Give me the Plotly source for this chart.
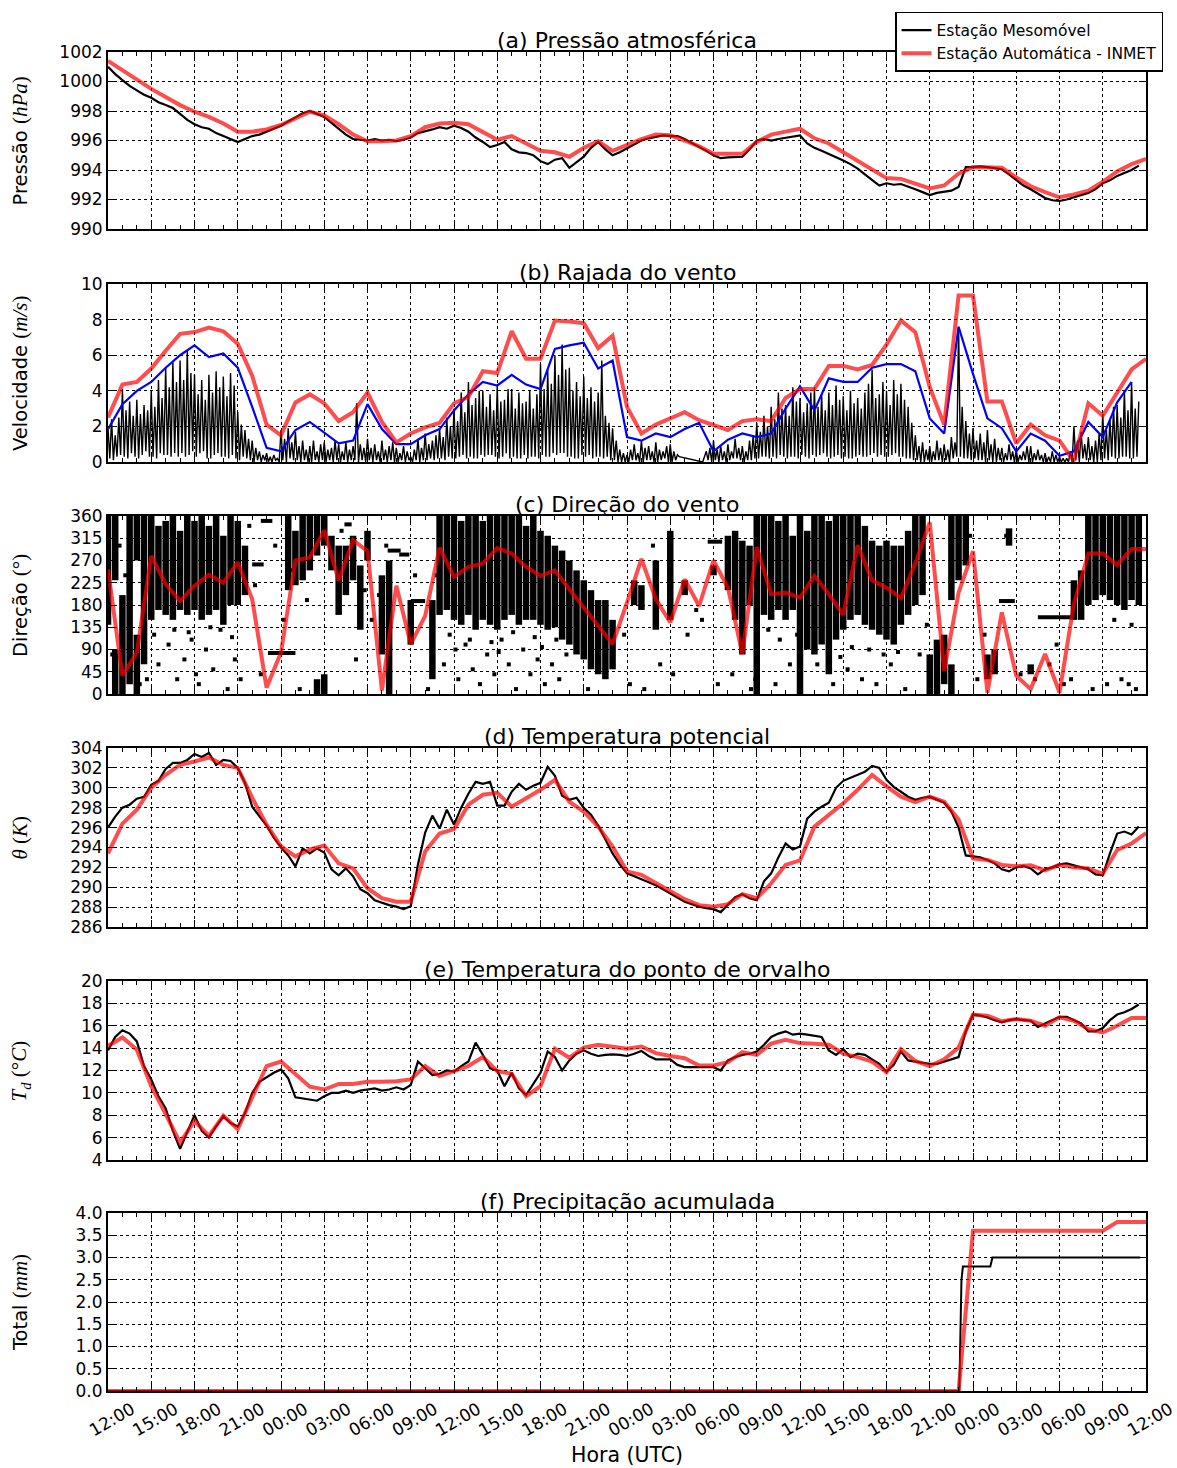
import numpy as np
import plotly.graph_objects as go

# ------------------------------------------------------------------
# Time axis: hours after the first 12:00 UTC (72 h window)
# ------------------------------------------------------------------
hour_tick_labels = ["12:00", "15:00", "18:00", "21:00", "00:00", "03:00", "06:00", "09:00",
                    "12:00", "15:00", "18:00", "21:00", "00:00", "03:00", "06:00", "09:00",
                    "12:00", "15:00", "18:00", "21:00", "00:00", "03:00", "06:00", "09:00",
                    "12:00"]
hour_tick_vals = list(range(0, 73, 3))

t_hour = np.arange(0, 73, 1.0)          # INMET hourly records
t_half = np.arange(0, 72.01, 0.5)       # mobile station, half-hour samples
t_eighth = np.arange(0, 72.01, 0.125)   # mobile station gusts, 7.5-min samples

# ------------------------------------------------------------------
# (a) Pressure (hPa)
# ------------------------------------------------------------------
inmet_pressure = [1001.4, 1000.75, 1000.1, 999.5, 998.95, 998.4, 997.95, 997.6, 997.15, 996.6,
                  996.6, 996.75, 997.05, 997.5, 997.95, 997.7, 997.1, 996.4, 995.95, 995.95,
                  996.0, 996.3, 996.9, 997.15, 997.2, 997.1, 996.6, 996.05, 996.3, 995.8,
                  995.3, 995.2, 994.9, 995.5, 995.95, 995.3, 995.7, 996.1, 996.4, 996.35,
                  996.0, 995.6, 995.1, 995.1, 995.1, 995.9, 996.4, 996.6, 996.8, 996.15,
                  995.8, 995.2, 994.6, 994.0, 993.45, 993.4, 993.1, 992.75, 992.95, 993.75,
                  994.2, 994.2, 994.15, 993.5, 992.9, 992.5, 992.15, 992.35, 992.6, 993.2,
                  993.9, 994.4, 994.75]
meso_pressure = [1001.0, 1000.5, 1000.1, 999.7, 999.4, 999.1, 998.9, 998.6, 998.4, 998.2,
                 997.8, 997.4, 997.1, 996.9, 996.8, 996.5, 996.3, 996.1, 995.9, 996.1,
                 996.3, 996.4, 996.6, 996.8, 997.0, 997.3, 997.6, 997.85, 998.0, 997.8,
                 997.6, 997.2, 996.8, 996.4, 996.1, 996.05, 996.0, 996.1, 996.0, 996.05,
                 995.95, 996.05, 996.2, 996.5, 996.6, 996.75, 996.9, 996.8, 997.0, 996.85,
                 996.6, 996.2, 995.9, 995.55, 995.7, 995.9, 995.4, 995.2, 995.15, 995.0,
                 994.6, 994.4, 994.7, 994.8, 994.15, 994.5, 994.9, 995.5, 995.9, 995.4,
                 995.0, 995.2, 995.45, 995.7, 996.0, 996.15, 996.25, 996.35, 996.3, 996.3,
                 996.1, 995.85, 995.6, 995.3, 995.0, 994.8, 994.85, 994.85, 994.9, 995.4,
                 996.0, 996.1, 996.0, 996.1, 996.2, 996.3, 996.35, 995.8, 995.5, 995.3,
                 995.1, 994.9, 994.65, 994.4, 994.1, 993.7, 993.3, 992.95, 993.1, 993.0,
                 993.05, 992.9, 992.7, 992.5, 992.3, 992.45, 992.5, 992.6, 992.85, 994.2,
                 994.2, 994.25, 994.2, 994.15, 994.05, 993.7, 993.3, 992.95, 992.7, 992.4,
                 992.1, 991.95, 991.9, 992.0, 992.15, 992.3, 992.45, 992.7, 993.1, 993.3,
                 993.6, 993.8, 994.0, 994.3, None]

# ------------------------------------------------------------------
# (b) Wind gust (m/s)
# ------------------------------------------------------------------
inmet_gust = [2.5, 4.35, 4.5, 5.25, 6.25, 7.2, 7.3, 7.55, 7.35, 6.65,
              4.85, 2.1, 1.5, 3.35, 3.8, 3.3, 2.3, 2.8, 3.9, 2.25,
              1.1, 1.6, 1.95, 2.2, 3.3, 3.65, 5.1, 5.0, 7.35, 5.8,
              5.8, 7.95, 7.9, 7.8, 6.4, 7.1, 3.1, 1.6, 2.1, 2.45,
              2.8, 2.35, 2.1, 1.8, 2.3, 2.4, 2.3, 3.6, 4.1, 4.1,
              5.4, 5.4, 5.2, 5.45, 6.6, 7.95, 7.3, 4.2, 2.1, 9.35,
              9.35, 3.4, 3.4, 1.05, 2.1, 1.5, 1.2, 0.05, 3.3, 2.6,
              3.9, 5.2, 5.8]
inmet_wind_speed = [1.85, 3.25, 4.0, 4.5, 5.3, 6.0, 6.55, 5.9, 6.1, 5.3,
                    3.1, 0.8, 0.6, 1.8, 2.25, 1.65, 1.05, 1.2, 3.25, 1.85,
                    1.0, 1.0, 1.5, 1.85, 2.9, 3.8, 4.5, 4.3, 4.9, 4.35,
                    4.1, 6.35, 6.55, 6.7, 5.25, 5.7, 1.4, 1.2, 1.6, 1.4,
                    1.85, 2.2, 0.6, 1.25, 1.6, 1.4, 1.6, 3.0, 4.25, 2.9,
                    4.7, 4.5, 4.5, 5.3, 5.5, 5.5, 5.1, 2.45, 1.6, 7.6,
                    4.95, 2.45, 1.9, 0.6, 1.6, 1.2, 0.35, 0.6, 2.25, 1.4,
                    3.35, 4.5]
meso_gust_by_hour = [
    [1.9, 0.2, 2.4, 0.1, 1.5, 0.3, 2.5, 0.4], [4.1, 0.3, 2.9, 0.2, 3.4, 0.5, 2.6, 0.3],
    [3.5, 0.2, 2.7, 0.4, 3.2, 0.6, 2.9, 0.3], [4.0, 0.3, 3.1, 0.2, 4.6, 0.5, 3.6, 0.4],
    [5.3, 0.4, 4.2, 0.3, 5.6, 0.5, 4.5, 0.3], [5.7, 0.5, 4.6, 0.3, 6.3, 0.4, 5.0, 0.6],
    [4.9, 0.3, 3.8, 0.5, 4.6, 0.6, 3.5, 0.2], [4.9, 0.2, 3.9, 0.4, 5.1, 0.5, 4.2, 0.3],
    [4.8, 0.3, 3.7, 0.2, 5.0, 0.4, 4.3, 0.2], [2.8, 0.1, 2.1, 0.3, 1.8, 0.2, 1.3, 0.1],
    [1.2, 0.0, 0.8, 0.1, 0.6, 0.0, 0.4, 0.1], [0.5, 0.0, 0.3, 0.0, 0.4, 0.1, 0.2, 0.0],
    [1.8, 0.1, 1.3, 0.0, 1.9, 0.2, 1.1, 0.1], [1.7, 0.1, 0.9, 0.0, 1.2, 0.1, 0.7, 0.0],
    [0.9, 0.0, 1.2, 0.1, 0.6, 0.0, 1.0, 0.1], [1.1, 0.0, 0.7, 0.1, 0.8, 0.0, 1.2, 0.1],
    [1.0, 0.0, 0.6, 0.1, 1.1, 0.0, 0.7, 0.1], [0.9, 0.1, 3.3, 0.0, 1.0, 0.1, 0.8, 0.0],
    [1.3, 0.1, 0.8, 0.0, 1.0, 0.1, 0.6, 0.0], [1.2, 0.1, 0.7, 0.0, 0.9, 0.1, 1.1, 0.0],
    [0.8, 0.0, 0.5, 0.1, 0.9, 0.0, 0.6, 0.1], [0.3, 0.0, 0.7, 0.1, 1.3, 0.0, 0.8, 0.1],
    [1.6, 0.1, 1.0, 0.2, 1.2, 0.1, 1.5, 0.2], [1.9, 0.2, 1.4, 0.1, 2.5, 0.3, 2.0, 0.2],
    [3.0, 0.2, 2.3, 0.3, 3.9, 0.4, 2.8, 0.2], [4.5, 0.3, 3.2, 0.2, 3.6, 0.2, 4.0, 0.4],
    [4.0, 0.3, 3.1, 0.4, 3.8, 0.4, 2.9, 0.3], [4.3, 0.2, 3.4, 0.3, 3.5, 0.5, 4.1, 0.2],
    [4.1, 0.3, 3.0, 0.2, 3.9, 0.2, 3.3, 0.4], [3.4, 0.2, 4.0, 0.3, 3.0, 0.3, 3.8, 0.2],
    [5.5, 0.4, 4.1, 0.3, 5.2, 0.3, 4.4, 0.5], [6.0, 0.4, 4.9, 0.5, 6.6, 0.5, 5.2, 0.3],
    [5.3, 0.3, 4.0, 0.2, 4.5, 0.2, 3.7, 0.4], [4.8, 0.3, 3.6, 0.4, 4.2, 0.2, 3.4, 0.3],
    [3.9, 0.3, 5.7, 0.2, 2.6, 0.3, 2.2, 0.1], [1.9, 0.1, 1.2, 0.0, 0.7, 0.0, 0.5, 0.0],
    [0.4, 0.0, 0.7, 0.1, 1.0, 0.1, 0.5, 0.0], [1.2, 0.0, 0.8, 0.1, 0.9, 0.1, 0.6, 0.0],
    [1.1, 0.0, 0.7, 0.1, 0.6, 0.2, 0.9, 0.0], [1.0, 0.0, 0.6, 0.1, 0.4, 0.3, None, None],
    [None, None, None, None, None, None, None, None],
    [None, None, 0.0, 0.3, 0.6, 0.1, 0.8, 0.0],
    [1.2, 0.1, 0.7, 0.0, 0.9, 0.1, 0.6, 0.0], [1.0, 0.1, 0.6, 0.2, 1.3, 0.2, 0.8, 0.1],
    [0.9, 0.0, 0.6, 0.1, 1.2, 0.1, 1.5, 0.2], [2.2, 0.2, 1.7, 0.3, 2.6, 0.3, 2.0, 0.2],
    [3.1, 0.3, 2.4, 0.2, 3.9, 0.4, 3.0, 0.3], [3.2, 0.2, 2.6, 0.3, 4.2, 0.3, 3.4, 0.2],
    [3.6, 0.4, 2.8, 0.3, 3.3, 0.2, 3.9, 0.4], [4.2, 0.3, 3.1, 0.4, 3.8, 0.5, 2.9, 0.3],
    [3.9, 0.2, 3.2, 0.3, 4.3, 0.4, 3.5, 0.2], [3.7, 0.3, 2.9, 0.2, 4.0, 0.2, 3.3, 0.3],
    [3.6, 0.4, 3.0, 0.3, 3.9, 0.3, 4.4, 0.4], [5.2, 0.5, 3.6, 0.3, 3.8, 0.4, 4.5, 0.3],
    [4.0, 0.3, 3.2, 0.4, 4.6, 0.5, 3.8, 0.3], [4.4, 0.3, 3.5, 0.2, 3.1, 0.2, 2.2, 0.1],
    [1.5, 0.1, 0.9, 0.0, 1.1, 0.0, 0.7, 0.1], [0.9, 0.0, 0.6, 0.1, 1.2, 0.1, 0.8, 0.0],
    [1.0, 0.1, 0.7, 0.0, 1.4, 0.2, 1.1, 0.3], [7.6, 0.3, 3.1, 0.2, 2.3, 0.2, 1.6, 0.1],
    [1.9, 0.2, 1.2, 0.1, 1.6, 0.1, 1.1, 0.0], [1.8, 0.1, 1.0, 0.0, 1.3, 0.0, 0.8, 0.1],
    [0.8, 0.0, 0.5, 0.1, 1.0, 0.1, 0.6, 0.0], [0.7, 0.0, 0.4, 0.1, 0.6, 0.1, 0.9, 0.0],
    [0.9, 0.0, 0.5, 0.1, 0.7, 0.1, 0.4, 0.0], [0.5, 0.0, 0.3, 0.0, 0.6, 0.0, 0.4, 0.0],
    [0.3, 0.0, 0.2, 0.0, 0.2, 0.0, 0.6, 0.0], [2.0, 0.1, 1.2, 0.0, 1.7, 0.2, 1.0, 0.1],
    [1.4, 0.1, 0.9, 0.0, 1.2, 0.0, 1.6, 0.1], [2.7, 0.2, 1.8, 0.1, 2.4, 0.3, 3.1, 0.2],
    [3.2, 0.2, 2.5, 0.3, 4.0, 0.3, 2.9, 0.2], [4.5, 0.2, 3.0, 0.3, 3.4, None, None, None],
    [None],
]
meso_gust = [v for hour in meso_gust_by_hour for v in hour]

# ------------------------------------------------------------------
# (c) Wind direction (degrees)
# ------------------------------------------------------------------
inmet_direction = [252, 37, 84, 279, 222, 188, 219, 241, 225, 266,
                   192, 13, 84, 270, 276, 331, 229, 311, 289, 7,
                   219, 101, 158, 296, 237, 257, 264, 295, 284, 257,
                   239, 250, 212, 175, 138, 101, 185, 273, 192, 145,
                   232, 178, 270, 215, 81, 297, 202, 205, 195, 239,
                   202, 160, 301, 230, 215, 194, 264, 347, 47, 205,
                   289, 3, 165, 37, 10, 81, 3, 182, 284, 284,
                   261, 293, 293]
# spread of the mobile-station direction samples in each half hour (lowest, highest)
meso_dir_low = [140, 230, 0, 20, 0, 60, 150, 170, 160, 150,
                170, 160, 170, 150, 160, 170, 140, 180, 180, 200,
                None, None, None, None, None, 210, 220, 230, 250, 280,
                300, 250, 160, 200, 230, 130, 270, None, 80, 0,
                None, None, 100, None, None, 30, 160, 170, 150, 140,
                160, 130, 150, 140, 130, 150, 160, 140, 150, 150,
                140, 130, 135, 110, 100, 80, 70, 50, 40, 30,
                50, None, None, 180, 170, None, 130, None, 150, None,
                200, None, None, None, 240, None, 210, 150, 80, 180,
                0, 160, 150, 170, 150, 170, 0, 90, 80, 100,
                40, 110, 130, 150, 160, 140, 130, 120, 110, 100,
                140, 160, 180, 200, 0, 0, 20, 190, 230, 260,
                None, None, 30, 40, None, 300, None, None, 40, None,
                None, None, None, None, 150, 150, 180, 190, 200, 190,
                180, 170, 190, 180, None]
meso_dir_high = [360, 360, 200, 360, 120, 360, 360, 340, 350, 360,
                 330, 360, 350, 360, 340, 360, 320, 360, 350, 300,
                 None, None, None, None, None, 360, 330, 360, 360, 360,
                 360, 320, 300, 300, 320, 260, 330, None, 240, 270,
                 None, None, 190, None, None, 190, 360, 360, 360, 350,
                 360, 360, 350, 360, 360, 360, 360, 360, 340, 360,
                 330, 320, 300, 290, 270, 250, 230, 210, 190, 190,
                 150, None, None, 230, 220, None, 270, None, 330, None,
                 230, None, None, None, 260, None, 320, 330, 310, 300,
                 360, 360, 360, 350, 360, 320, 360, 330, 360, 360,
                 350, 360, 360, 360, 360, 340, 310, 300, 310, 300,
                 300, 330, 360, 360, 80, 110, 120, 360, 360, 360,
                 None, None, 80, 90, None, 335, None, None, 60, None,
                 None, None, None, None, 230, 250, 360, 360, 360, 360,
                 360, 360, 360, 360, None]
# secondary clusters (hour, lowest, highest)
meso_dir_extra_t = [0.5, 2.0, 14.5, 15.0, 58.5]
meso_dir_extra_low = [0, 270, 0, 0, 0]
meso_dir_extra_high = [90, 360, 30, 40, 60]
# periods of steady direction (start hour, end hour, direction)
meso_dir_steady_start = [10.0, 10.6, 11.1, 16.4, 19.4, 20.2, 21.0, 41.6, 61.8, 64.5]
meso_dir_steady_end = [10.8, 11.4, 13.0, 16.9, 20.3, 20.9, 22.0, 42.6, 62.9, 67.1]
meso_dir_steady_value = [262, 350, 83, 343, 290, 282, 188, 308, 188, 155]
# isolated samples
meso_dir_dot_t = [0.3, 0.8, 1.2, 2.2, 3.5, 4.2, 4.8, 5.3, 5.8, 6.3, 6.8, 7.3, 7.8, 8.3, 8.8,
                  9.2, 10.2, 10.6, 11.6, 12.2, 13.3, 13.8, 16.2, 17.2, 17.8, 18.3, 19.3, 21.3,
                  22.2, 23.3, 24.3, 24.8, 25.3, 25.8, 26.3, 26.8, 27.3, 27.8, 28.3, 28.8, 29.3,
                  29.8, 30.3, 30.8, 31.3, 31.8, 33.3, 36.2, 37.2, 38.3, 39.2, 40.2, 41.2, 42.3,
                  43.3, 44.6, 46.3, 47.3, 50.3, 51.3, 52.3, 53.3, 54.3, 55.3, 56.3, 60.3, 63.3,
                  64.3, 65.3, 66.3, 69.3, 70.3, 71.3, 9.8, 12.8, 18.8, 22.8, 35.8, 37.8, 40.8,
                  44.9, 59.8, 60.8, 62.3, 65.8, 66.8, 68.3, 70.8,
                  3.2, 4.6, 5.6, 7.1, 8.6, 23.7, 25.1, 26.6, 28.1, 29.6, 31.1, 45.8, 47.8,
                  49.2, 50.8, 52.8, 54.8, 56.8, 69.8, 71.0, 2.7, 6.1, 24.1, 27.1, 30.1, 46.6,
                  51.6, 53.8]
meso_dir_dot_v = [80, 300, 240, 20, 60, 100, 30, 70, 110, 20, 90, 50, 130, 10, 70,
                  30, 220, 40, 300, 150, 10, 190, 330, 70, 210, 150, 300, 240,
                  10, 60, 30, 100, 50, 20, 80, 40, 110, 60, 10, 90, 40,
                  70, 20, 60, 30, 80, 10, 20, 10, 60, 40, 120, 150, 20,
                  40, 10, 20, 60, 20, 50, 30, 20, 60, 10, 80, 30, 40,
                  30, 60, 20, 20, 30, 10, 340, 250, 200, 240, 120, 300, 170,
                  30, 320, 120, 320, 100, 30, 10, 20,
                  120, 130, 125, 135, 115, 120, 110, 105, 125, 115, 110, 130, 120,
                  60, 75, 90, 85, 140, 150, 140, 30, 40, 90, 85, 95, 110,
                  95, 80]

# ------------------------------------------------------------------
# (d) Potential temperature (K)
# ------------------------------------------------------------------
inmet_theta = [293.4, 296.4, 297.8, 300.0, 301.3, 302.3, 302.65, 303.05, 302.3, 302.0,
               299.0, 296.3, 294.1, 293.1, 293.8, 294.2, 292.4, 291.9, 289.9, 288.9,
               288.55, 288.55, 293.6, 295.4, 295.85, 298.3, 299.3, 299.5, 298.1, 298.95,
               299.8, 300.8, 298.6, 297.6, 296.1, 294.1, 291.6, 291.25, 290.4, 289.55,
               288.8, 288.2, 288.05, 288.3, 289.3, 288.9, 290.4, 292.25, 292.7, 296.1,
               297.3, 298.45, 299.8, 301.3, 300.15, 299.1, 298.55, 299.1, 298.6, 296.8,
               292.9, 292.75, 292.25, 292.1, 292.2, 291.7, 292.25, 292.0, 291.9, 291.35,
               293.75, 294.4, 295.45]
meso_theta = [296.0, 297.1, 298.0, 298.3, 298.9, 299.1, 300.3, 300.7, 301.9, 302.5,
              302.5, 302.8, 303.4, 303.1, 303.5, 302.3, 302.8, 302.7, 302.0, 300.5,
              298.1, 297.2, 296.2, 295.0, 294.0, 293.2, 292.1, 293.9, 293.4, 293.9,
              293.5, 291.8, 291.2, 291.9, 291.1, 289.8, 289.4, 288.7, 288.45, 288.2,
              288.05, 287.8, 288.1, 292.3, 295.5, 297.2, 295.9, 297.8, 296.3, 298.0,
              299.4, 300.6, 300.4, 300.6, 298.2, 298.2, 299.6, 300.4, 299.8, 300.2,
              300.5, 302.1, 301.2, 299.2, 298.8, 299.0, 298.0, 297.3, 296.2, 294.8,
              293.4, 292.3, 291.4, 291.1, 290.8, 290.5, 290.2, 289.8, 289.4, 289.0,
              288.55, 288.3, 288.05, 287.9, 287.8, 287.5, 288.2, 289.0, 289.3, 288.9,
              288.7, 290.6, 291.4, 293.0, 294.4, 293.8, 294.1, 296.9, 297.6, 298.1,
              298.5, 300.0, 300.7, 301.0, 301.3, 301.6, 302.2, 302.0, 300.8, 300.1,
              299.6, 299.1, 298.8, 299.0, 299.1, 298.8, 298.5, 297.6, 296.0, 293.2,
              293.1, 293.0, 292.75, 292.4, 291.8, 291.6, 292.0, 292.15, 291.9, 291.3,
              291.8, 292.0, 292.3, 292.4, 292.2, 292.0, 291.8, 291.3, 291.2, 293.4,
              295.4, 295.6, 295.3, 296.1, None]

# ------------------------------------------------------------------
# (e) Dew point (°C)
# ------------------------------------------------------------------
inmet_dewpoint = [14.2, 14.95, 13.85, 10.6, 8.1, 5.55, 7.5, 6.15, 7.95, 6.75,
                  9.6, 12.4, 12.8, 11.65, 10.55, 10.3, 10.8, 10.8, 11.0, 11.0,
                  11.05, 11.2, 12.4, 11.5, 11.95, 12.4, 13.2, 11.95, 11.7, 9.7,
                  10.6, 13.95, 13.15, 14.05, 14.3, 14.1, 13.95, 14.15, 13.55, 13.3,
                  13.1, 12.45, 12.45, 12.75, 13.65, 13.4, 14.4, 14.75, 14.45, 14.4,
                  14.3, 13.5, 13.2, 12.8, 11.85, 13.9, 12.85, 12.4, 13.0, 14.05,
                  17.0, 16.9, 16.4, 16.6, 16.45, 16.0, 16.75, 16.45, 15.7, 15.4,
                  16.0, 16.7, 16.7]
meso_dewpoint = [13.8, 15.0, 15.6, 15.3, 14.6, 12.4, 11.2, 9.7, 8.6, 6.6,
                 5.0, 6.5, 8.0, 6.6, 6.0, 7.0, 7.9, 7.3, 7.0, 8.2,
                 10.0, 11.0, 11.4, 11.8, 12.1, 11.3, 9.6, 9.5, 9.4, 9.3,
                 9.7, 10.0, 10.0, 10.2, 10.0, 10.2, 10.3, 10.4, 10.2, 10.3,
                 10.5, 10.3, 10.7, 12.8, 12.2, 11.6, 11.7, 12.0, 11.9, 12.4,
                 12.8, 14.5, 13.4, 12.2, 12.0, 10.6, 11.8, 10.4, 9.8, 10.8,
                 11.8, 13.7, 13.2, 12.0, 12.9, 13.5, 13.8, 13.5, 13.3, 13.4,
                 13.45, 13.4, 13.3, 13.5, 13.75, 13.3, 13.0, 13.0, 13.0, 12.5,
                 12.3, 12.3, 12.3, 12.3, 12.3, 12.0, 12.9, 13.2, 13.4, 13.5,
                 13.7, 14.3, 15.0, 15.3, 15.5, 15.2, 15.3, 15.2, 15.1, 15.0,
                 13.8, 13.4, 13.9, 13.2, 13.5, 13.4, 13.0, 12.6, 11.9, 12.5,
                 13.7, 12.9, 12.8, 12.7, 12.6, 12.6, 12.8, 13.0, 13.2, 15.5,
                 17.0, 16.9, 16.75, 16.5, 16.3, 16.5, 16.6, 16.5, 16.45, 15.9,
                 16.2, 16.5, 16.8, 16.8, 16.5, 16.2, 15.5, 15.5, 15.8, 16.5,
                 17.0, 17.2, 17.5, 17.9, None]

# ------------------------------------------------------------------
# (f) Accumulated precipitation (mm)
# ------------------------------------------------------------------
inmet_rain_t = [0, 59, 60, 69, 70, 72]
inmet_rain = [0.0, 0.0, 3.6, 3.6, 3.8, 3.8]
meso_rain_t = [0, 59.05, 59.2, 59.3, 61.2, 61.35, 71.6]
meso_rain = [0.0, 0.0, 2.5, 2.8, 2.8, 3.0, 3.0]

# ------------------------------------------------------------------
# Styling
# ------------------------------------------------------------------
FONT = "DejaVu Sans"
MATH = "font-family:Liberation Serif;font-size:21px"
RED = "rgba(255,0,0,0.7)"
BLACK = "black"

panels = [
    dict(title="(a) Pressão atmosférica", domain=[0.8678, 1.0], range=[990, 1002], dtick=2,
         fmt="d", label=f'Pressão <span style="{MATH}">(<i>hPa</i>)</span>'),
    dict(title="(b) Rajada do vento", domain=[0.6938, 0.8267], range=[0, 10], dtick=2,
         fmt="d", label=f'Velocidade <span style="{MATH}">(<i>m/s</i>)</span>'),
    dict(title="(c) Direção do vento", domain=[0.5205, 0.6535], range=[0, 360], dtick=45,
         fmt="d", label=f'Direção <span style="{MATH}">(°)</span>'),
    dict(title="(d) Temperatura potencial", domain=[0.3465, 0.4802], range=[286, 304], dtick=2,
         fmt="d", label=f'<span style="{MATH}"><i>θ</i> (<i>K</i>)</span>'),
    dict(title="(e) Temperatura do ponto de orvalho", domain=[0.1725, 0.3062], range=[4, 20],
         dtick=2, fmt="d", label=f'<span style="{MATH}"><i>T<sub>d</sub></i> (°<i>C</i>)</span>'),
    dict(title="(f) Precipitação acumulada", domain=[0.0, 0.1329], range=[0, 4], dtick=0.5,
         fmt=".1f", label=f'Total <span style="{MATH}">(<i>mm</i>)</span>'),
]


def axis_ids(i):
    s = "" if i == 1 else str(i)
    return "x" + s, "y" + s


fig = go.Figure()

# (a)
fig.add_trace(go.Scatter(x=t_half, y=meso_pressure, mode="lines", name="Estação Mesomóvel",
                         line=dict(color=BLACK, width=2.2), xaxis="x", yaxis="y"))
fig.add_trace(go.Scatter(x=t_hour, y=inmet_pressure, mode="lines",
                         name="Estação Automática - INMET",
                         line=dict(color=RED, width=4), xaxis="x", yaxis="y"))

# (b)
fig.add_trace(go.Scatter(x=t_eighth, y=meso_gust, mode="lines", connectgaps=True,
                         line=dict(color=BLACK, width=1.4), showlegend=False,
                         xaxis="x2", yaxis="y2"))
fig.add_trace(go.Scatter(x=t_hour[:len(inmet_wind_speed)], y=inmet_wind_speed, mode="lines",
                         line=dict(color="#0000ff", width=2.2), showlegend=False,
                         xaxis="x2", yaxis="y2"))
fig.add_trace(go.Scatter(x=t_hour, y=inmet_gust, mode="lines", line=dict(color=RED, width=4),
                         showlegend=False, xaxis="x2", yaxis="y2"))

# (c) mobile-station samples drawn as vertical spreads, steady runs and single points
seg_x, seg_y = [], []
for t, lo, hi in zip(t_half, meso_dir_low, meso_dir_high):
    if lo is None:
        continue
    seg_x += [t, t, None]
    seg_y += [lo, hi, None]
for t, lo, hi in zip(meso_dir_extra_t, meso_dir_extra_low, meso_dir_extra_high):
    seg_x += [t, t, None]
    seg_y += [lo, hi, None]
fig.add_trace(go.Scatter(x=seg_x, y=seg_y, mode="lines", line=dict(color=BLACK, width=6.5),
                         showlegend=False, xaxis="x3", yaxis="y3"))
run_x, run_y = [], []
for a, b, v in zip(meso_dir_steady_start, meso_dir_steady_end, meso_dir_steady_value):
    run_x += [a, b, None]
    run_y += [v, v, None]
fig.add_trace(go.Scatter(x=run_x, y=run_y, mode="lines", line=dict(color=BLACK, width=4),
                         showlegend=False, xaxis="x3", yaxis="y3"))
fig.add_trace(go.Scatter(x=meso_dir_dot_t, y=meso_dir_dot_v, mode="markers",
                         marker=dict(color=BLACK, size=4, symbol="square"),
                         showlegend=False, xaxis="x3", yaxis="y3"))
fig.add_trace(go.Scatter(x=t_hour, y=inmet_direction, mode="lines",
                         line=dict(color=RED, width=4), showlegend=False,
                         xaxis="x3", yaxis="y3"))

# (d)
fig.add_trace(go.Scatter(x=t_half, y=meso_theta, mode="lines", line=dict(color=BLACK, width=2.2),
                         showlegend=False, xaxis="x4", yaxis="y4"))
fig.add_trace(go.Scatter(x=t_hour, y=inmet_theta, mode="lines", line=dict(color=RED, width=4),
                         showlegend=False, xaxis="x4", yaxis="y4"))

# (e)
fig.add_trace(go.Scatter(x=t_half, y=meso_dewpoint, mode="lines",
                         line=dict(color=BLACK, width=2.2), showlegend=False,
                         xaxis="x5", yaxis="y5"))
fig.add_trace(go.Scatter(x=t_hour, y=inmet_dewpoint, mode="lines",
                         line=dict(color=RED, width=4), showlegend=False,
                         xaxis="x5", yaxis="y5"))

# (f)
fig.add_trace(go.Scatter(x=meso_rain_t, y=meso_rain, mode="lines",
                         line=dict(color=BLACK, width=2), showlegend=False,
                         xaxis="x6", yaxis="y6"))
fig.add_trace(go.Scatter(x=inmet_rain_t, y=inmet_rain, mode="lines",
                         line=dict(color=RED, width=4), showlegend=False,
                         xaxis="x6", yaxis="y6"))

layout = dict(
    width=1177, height=1468,
    margin=dict(l=108, r=31, t=52, b=77, autoexpand=False),
    paper_bgcolor="white", plot_bgcolor="white",
    font=dict(family=FONT, size=17, color="black"),
    legend=dict(x=1.0164, y=1.0299, xanchor="right", yanchor="top",
                bgcolor="white", bordercolor="black", borderwidth=1.5,
                font=dict(size=15.5), tracegroupgap=0),
)

annotations = []
for i, p in enumerate(panels, start=1):
    xname, yname = axis_ids(i)
    xkey = "xaxis" + ("" if i == 1 else str(i))
    ykey = "yaxis" + ("" if i == 1 else str(i))
    layout[xkey] = dict(
        domain=[0, 1], anchor=yname, range=[0, 72], automargin=False,
        tickmode="array", tickvals=hour_tick_vals, ticktext=hour_tick_labels,
        showticklabels=(i == 6), tickangle=-30, tickfont=dict(size=17),
        ticklabelshift=24,
        ticks="inside", ticklen=7, tickwidth=1.3, tickcolor="black",
        minor=dict(ticks="inside", ticklen=4, tickwidth=1, tickcolor="black",
                   tickmode="linear", tick0=0, dtick=1, showgrid=False),
        showline=True, linecolor="black", linewidth=2, mirror="allticks",
        showgrid=True, gridcolor="black", griddash="dot", gridwidth=1,
        zeroline=False,
    )
    if i != 1:
        layout[xkey]["matches"] = "x"
    layout[ykey] = dict(
        domain=p["domain"], anchor=xname, range=p["range"], automargin=False,
        tickmode="linear", tick0=p["range"][0], dtick=p["dtick"], tickformat=p["fmt"],
        ticks="inside", ticklen=7, tickwidth=1.3, tickcolor="black",
        showline=True, linecolor="black", linewidth=2, mirror="allticks",
        showgrid=True, gridcolor="black", griddash="dot", gridwidth=1,
        zeroline=False, tickfont=dict(size=17),
    )
    annotations.append(dict(text=p["title"], xref="paper", yref="paper", x=0.5,
                            y=p["domain"][1], xanchor="center", yanchor="bottom",
                            showarrow=False, font=dict(size=22), yshift=-3))
    annotations.append(dict(text=p["label"], xref="paper", yref="paper", x=-0.0848,
                            y=(p["domain"][0] + p["domain"][1]) / 2, xanchor="center",
                            yanchor="middle", textangle=-90, showarrow=False,
                            font=dict(size=19.5)))

annotations.append(dict(text="Hora (UTC)", xref="paper", yref="paper", x=0.5, y=-0.0478,
                        xanchor="center", yanchor="middle", showarrow=False,
                        font=dict(size=20.5)))
layout["annotations"] = annotations

fig.update_layout(**layout)
fig.write_html("out.html")
